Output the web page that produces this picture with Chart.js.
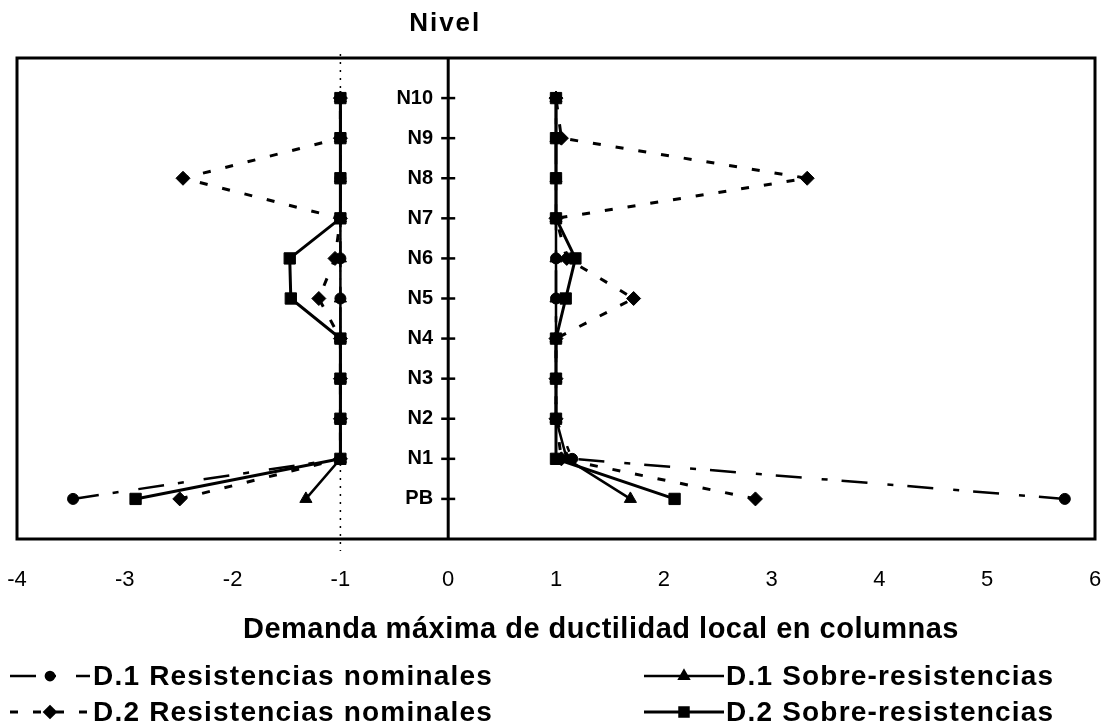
<!DOCTYPE html>
<html>
<head>
<meta charset="utf-8">
<script src="https://cdn.jsdelivr.net/npm/chart.js@4.4.1/dist/chart.umd.min.js"></script>
<style>
  html, body { margin: 0; padding: 0; background: #fff; }
  #wrap { width: 1110px; height: 727px; position: relative; }
</style>
</head>
<body>
<div id="wrap"><canvas id="c" width="1110" height="727"></canvas></div>
<script>
// ---- data ----
const levels = ['PB', 'N1', 'N2', 'N3', 'N4', 'N5', 'N6', 'N7', 'N8', 'N9', 'N10'];
const xTickValues = [-4, -3, -2, -1, 0, 1, 2, 3, 4, 5, 6];
const seriesNames = ['D.1 Resistencias nominales', 'D.2 Resistencias nominales', 'D.1 Sobre-resistencias', 'D.2 Sobre-resistencias'];
const axisTitleX = 'Demanda máxima de ductilidad local en columnas';
const axisTitleY = 'Nivel';

// values per level, PB..N10 (positive branch and negative branch)
const d1NomPos = [5.72, 1.15, 1.0, 1.0, 1.0, 1.0, 1.0, 1.0, 1.0, 1.0, 1.0];
const d1NomNeg = [-3.48, -1.0, -1.0, -1.0, -1.0, -1.0, -1.0, -1.0, -1.0, -1.0, -1.0];
const d2NomPos = [2.85, 1.05, 1.0, 1.0, 1.0, 1.72, 1.1, 1.0, 3.33, 1.05, 1.0];
const d2NomNeg = [-2.49, -1.0, -1.0, -1.0, -1.0, -1.2, -1.05, -1.0, -2.46, -1.0, -1.0];
const d1SobPos = [1.69, 1.1, 1.0, 1.0, 1.0, 1.0, 1.0, 1.0, 1.0, 1.0, 1.0];
const d1SobNeg = [-1.32, -1.0, -1.0, -1.0, -1.0, -1.0, -1.0, -1.0, -1.0, -1.0, -1.0];
const d2SobPos = [2.10, 1.0, 1.0, 1.0, 1.0, 1.09, 1.18, 1.0, 1.0, 1.0, 1.0];
const d2SobNeg = [-2.90, -1.0, -1.0, -1.0, -1.0, -1.46, -1.47, -1.0, -1.0, -1.0, -1.0];
const referenceLine = -1;

// ---- styles ----
const styles = [
  { borderDash: [26, 14, 6, 20], borderWidth: 2.5, pointStyle: 'circle', pointRadius: 5.5 },
  { borderDash: [8, 15], borderWidth: 3, pointStyle: 'rectRot', pointRadius: 7 },
  { borderDash: [], borderWidth: 2.5, pointStyle: 'triangle', pointRadius: 7 },
  { borderDash: [], borderWidth: 3, pointStyle: 'rect', pointRadius: 8 }
];
const branches = [
  [d1NomPos, d1NomNeg],
  [d2NomPos, d2NomNeg],
  [d1SobPos, d1SobNeg],
  [d2SobPos, d2SobNeg]
];

const toPoints = arr => arr.map((v, i) => ({ x: v, y: i }));

const datasets = [];
[3, 2, 1, 0].forEach(s => {
  branches[s].forEach((arr, b) => {
    datasets.push(Object.assign({
      label: seriesNames[s],
      seriesIndex: s,
      legendItem: b === 0,
      data: toPoints(arr),
      showLine: true,
      borderColor: '#000',
      backgroundColor: '#000',
      pointBackgroundColor: '#000',
      pointBorderColor: '#000',
      pointBorderWidth: 1,
      tension: 0,
      fill: false,
      clip: false
    }, styles[s]));
  });
});

const FONT = "'Liberation Sans', Arial, Helvetica, sans-serif";

const decor = {
  id: 'decor',
  beforeDatasetsDraw(chart) {
    const { ctx, chartArea: a, scales: { x, y } } = chart;
    ctx.save();
    const xr = x.getPixelForValue(referenceLine);
    ctx.strokeStyle = '#000';
    ctx.lineWidth = 1.5;
    ctx.setLineDash([2, 6]);
    ctx.beginPath();
    ctx.moveTo(xr, a.top - 4);
    ctx.lineTo(xr, a.bottom + 12);
    ctx.stroke();
    ctx.setLineDash([]);
    ctx.lineWidth = 3;
    ctx.strokeRect(a.left, a.top, a.right - a.left, a.bottom - a.top);
    const x0 = x.getPixelForValue(0);
    ctx.beginPath();
    ctx.moveTo(x0, a.top);
    ctx.lineTo(x0, a.bottom);
    ctx.stroke();
    ctx.lineWidth = 2.5;
    levels.forEach((l, i) => {
      const py = y.getPixelForValue(i);
      ctx.beginPath();
      ctx.moveTo(x0 - 7, py);
      ctx.lineTo(x0 + 7, py);
      ctx.stroke();
    });
    ctx.restore();
  },
  afterDraw(chart) {
    const { ctx, scales: { x } } = chart;
    ctx.save();
    ctx.fillStyle = '#000';
    ctx.textBaseline = 'middle';
    ctx.textAlign = 'center';
    ctx.font = 'bold 26px ' + FONT;
    try { ctx.letterSpacing = '2px'; } catch (e) {}
    ctx.fillText(axisTitleY, x.getPixelForValue(0) - 3, 24);
    ctx.font = 'bold 29px ' + FONT;
    try { ctx.letterSpacing = '0.5px'; } catch (e) {}
    ctx.fillText(axisTitleX, 601, 630);
    const slots = [
      { x0: 10, x1: 90, tx: 93, y: 676 },
      { x0: 10, x1: 90, tx: 93, y: 712 },
      { x0: 644, x1: 724, tx: 726, y: 676 },
      { x0: 644, x1: 724, tx: 726, y: 712 }
    ];
    ctx.textAlign = 'left';
    ctx.font = 'bold 28px ' + FONT;
    try { ctx.letterSpacing = '1.2px'; } catch (e) {}
    chart.data.datasets.filter(d => d.legendItem).forEach(d => {
      const s = slots[d.seriesIndex];
      ctx.strokeStyle = '#000';
      ctx.lineWidth = d.borderWidth;
      ctx.setLineDash(d.borderDash || []);
      ctx.beginPath();
      ctx.moveTo(s.x0, s.y);
      ctx.lineTo(s.x1, s.y);
      ctx.stroke();
      ctx.setLineDash([]);
      const cx = (s.x0 + s.x1) / 2;
      Chart.helpers.drawPoint(ctx, {
        pointStyle: d.pointStyle,
        radius: d.pointRadius * 0.75,
        rotation: 0,
        borderWidth: 1
      }, cx, s.y);
      ctx.fill();
      ctx.fillText(d.label, s.tx, s.y + 1);
    });
    try { ctx.letterSpacing = '0px'; } catch (e) {}
    ctx.restore();
  }
};

new Chart(document.getElementById('c'), {
  type: 'scatter',
  data: { datasets },
  options: {
    responsive: false,
    animation: false,
    devicePixelRatio: 1,
    layout: { padding: { left: 17, right: 15, top: 58, bottom: 0 } },
    plugins: { legend: { display: false }, tooltip: { enabled: false }, title: { display: false } },
    scales: {
      x: {
        type: 'linear',
        min: -4,
        max: 6,
        grid: { display: false, drawTicks: false },
        border: { display: false },
        afterBuildTicks: s => { s.ticks = xTickValues.map(v => ({ value: v })); },
        afterFit: s => { s.height = 188; s.paddingLeft = 0; s.paddingRight = 0; },
        ticks: {
          color: '#000',
          padding: 28,
          maxRotation: 0,
          autoSkip: false,
          font: { family: FONT, size: 22 },
          callback: v => String(v)
        }
      },
      y: {
        type: 'linear',
        position: { x: -0.14 },
        min: -1,
        max: 11,
        grid: { display: false, drawTicks: false },
        border: { display: false },
        afterBuildTicks: s => { s.ticks = levels.map((l, i) => ({ value: i })); },
        afterFit: s => { s.paddingTop = 0; s.paddingBottom = 0; },
        ticks: {
          color: '#000',
          padding: 0,
          autoSkip: false,
          font: { family: FONT, size: 20, weight: 'bold' },
          callback: v => levels[v] !== undefined ? levels[v] : ''
        }
      }
    }
  },
  plugins: [decor]
});
</script>
</body>
</html>
